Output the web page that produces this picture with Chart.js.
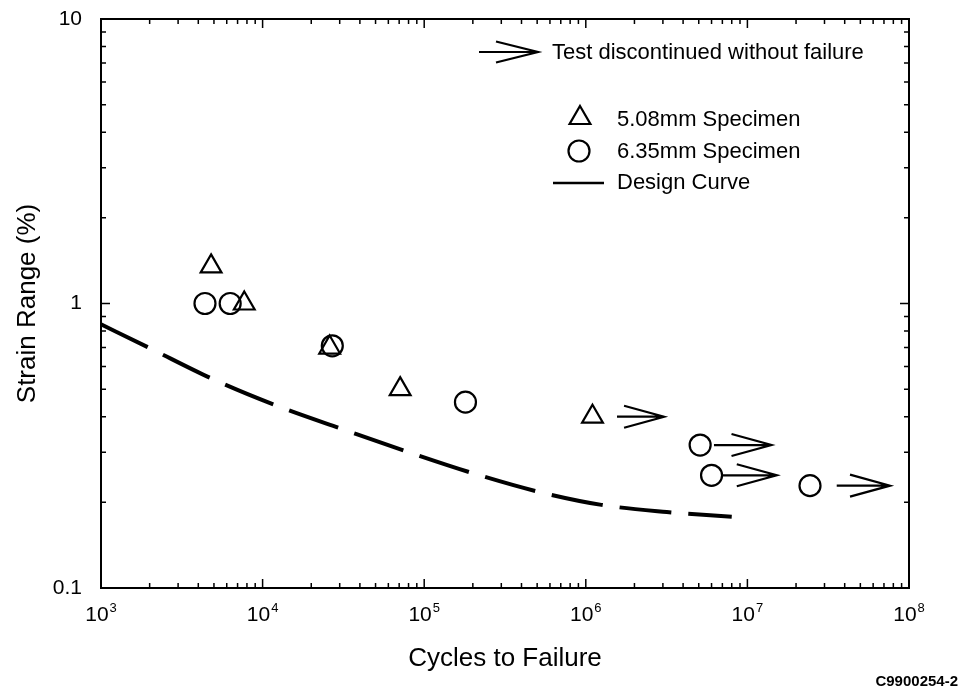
<!DOCTYPE html>
<html lang="en">
<head>
    <meta charset="UTF-8">
    <title>Strain Range vs Cycles to Failure</title>
    <script src="https://cdn.jsdelivr.net/npm/chart.js"></script>
    <style>
        html, body { margin: 0; padding: 0; background: #fff; }
        canvas { display: block; }
    </style>
</head>
<body>
    <canvas id="fatigueChart" width="960" height="689"></canvas>

    <script>
        // 5.08mm specimens (triangles)
        const triCycles = [4800, 7700, 26000, 71000, 1100000];
        const triStrain = [1.35, 1.0, 0.70, 0.50, 0.40];

        // 6.35mm specimens (circles)
        const circCycles = [4400, 6300, 27000, 180000, 5100000, 6000000, 24400000];
        const circStrain = [1.0, 1.0, 0.71, 0.45, 0.318, 0.249, 0.229];

        // design curve
        const designCycles = [1000, 2010, 5075, 12800, 32400, 81700, 201000, 508000, 1250000, 3170000, 8000000];
        const designStrain = [0.845, 0.696, 0.538, 0.433, 0.359, 0.299, 0.253, 0.218, 0.196, 0.185, 0.178];

        // run-outs: arrow from / to (cycles) at strain
        const runoutFrom = [1560000, 6210000, 6930000, 35700000];
        const runoutTo = [3050000, 14100000, 15200000, 76300000];
        const runoutStrain = [0.40, 0.318, 0.249, 0.229];

        // x tick labels: base and exponent
        const xTickBase = ['10', '10', '10', '10', '10', '10'];
        const xTickExp = ['3', '4', '5', '6', '7', '8'];
        const yTickLabels = ['0.1', '1', '10'];
        const legendLabels = ['Test discontinued without failure', '5.08mm Specimen', '6.35mm Specimen', 'Design Curve'];
        const figureId = 'C9900254-2';

        const FONT = '"Liberation Sans", Arial, Helvetica, sans-serif';

        // log tick positions 1..9 x 10^k
        function logTicks(lo, hi) {
            let out = [];
            for (let k = lo; k < hi; k++) {
                for (let m = 1; m <= 9; m++) out.push(m * Math.pow(10, k));
            }
            out.push(Math.pow(10, hi));
            return out;
        }
        const xTickValues = logTicks(3, 8);
        const yTickValues = logTicks(-1, 1);

        function isDecade(v) {
            let k = Math.round(Math.log10(v));
            return Math.abs(v - Math.pow(10, k)) < 1e-6 * v;
        }

        function drawArrow(ctx, x0, x1, y, headLen, headHalf) {
            ctx.beginPath();
            ctx.moveTo(x0, y);
            ctx.lineTo(x1, y);
            ctx.moveTo(x1 - headLen, y - headHalf);
            ctx.lineTo(x1, y);
            ctx.lineTo(x1 - headLen, y + headHalf);
            ctx.stroke();
        }

        // frame + inward ticks on all four sides, power-of-ten labels
        const framePlugin = {
            id: 'frame',
            afterDraw(chart) {
                const ctx = chart.ctx;
                const a = chart.chartArea;
                const xs = chart.scales.x, ys = chart.scales.y;
                ctx.save();
                ctx.strokeStyle = '#000';
                ctx.lineWidth = 2;
                ctx.strokeRect(a.left, a.top, a.right - a.left, a.bottom - a.top);
                ctx.lineWidth = 1.5;
                ctx.beginPath();
                xTickValues.forEach(v => {
                    let px = xs.getPixelForValue(v);
                    let len = isDecade(v) ? 9 : 5;
                    ctx.moveTo(px, a.bottom); ctx.lineTo(px, a.bottom - len);
                    ctx.moveTo(px, a.top); ctx.lineTo(px, a.top + len);
                });
                yTickValues.forEach(v => {
                    let py = ys.getPixelForValue(v);
                    let len = isDecade(v) ? 9 : 5;
                    ctx.moveTo(a.left, py); ctx.lineTo(a.left + len, py);
                    ctx.moveTo(a.right, py); ctx.lineTo(a.right - len, py);
                });
                ctx.stroke();

                // 10^n labels under the x axis
                ctx.fillStyle = '#000';
                ctx.textBaseline = 'alphabetic';
                ctx.textAlign = 'left';
                xTickExp.forEach((e, i) => {
                    let px = xs.getPixelForValue(Math.pow(10, Number(e)));
                    ctx.font = '21px ' + FONT;
                    let wb = ctx.measureText(xTickBase[i]).width;
                    ctx.font = '13px ' + FONT;
                    let we = ctx.measureText(e).width;
                    let x0 = px - (wb + we + 1) / 2;
                    ctx.font = '21px ' + FONT;
                    ctx.fillText(xTickBase[i], x0, a.bottom + 33);
                    ctx.font = '13px ' + FONT;
                    ctx.fillText(e, x0 + wb + 1, a.bottom + 24);
                });
                ctx.restore();
            }
        };

        // arrows for tests stopped without failure
        const runoutPlugin = {
            id: 'runouts',
            afterDatasetsDraw(chart) {
                const ctx = chart.ctx;
                const xs = chart.scales.x, ys = chart.scales.y;
                ctx.save();
                ctx.strokeStyle = '#000';
                ctx.lineWidth = 2.2;
                runoutFrom.forEach((f, i) => {
                    let x0 = xs.getPixelForValue(f);
                    let x1 = xs.getPixelForValue(runoutTo[i]);
                    let y = ys.getPixelForValue(runoutStrain[i]);
                    drawArrow(ctx, x0, x1, y, 40, 11);
                });
                ctx.restore();
            }
        };

        function marker(ctx, style, r, x, y) {
            ctx.beginPath();
            if (style === 'triangle') {
                let rad = 0;
                ctx.moveTo(x + Math.sin(rad) * r, y - Math.cos(rad) * r);
                rad += 2 * Math.PI / 3;
                ctx.lineTo(x + Math.sin(rad) * r, y - Math.cos(rad) * r);
                rad += 2 * Math.PI / 3;
                ctx.lineTo(x + Math.sin(rad) * r, y - Math.cos(rad) * r);
                ctx.closePath();
            } else {
                ctx.arc(x, y, r, 0, Math.PI * 2);
            }
            ctx.stroke();
        }

        // legend box inside the plot + figure id
        const legendPlugin = {
            id: 'customLegend',
            afterDraw(chart) {
                const ctx = chart.ctx;
                ctx.save();
                ctx.strokeStyle = '#000';
                ctx.fillStyle = '#000';
                ctx.lineWidth = 2.2;
                ctx.font = '22px ' + FONT;
                ctx.textBaseline = 'middle';
                ctx.textAlign = 'left';

                drawArrow(ctx, 479, 538, 52, 42, 10.5);
                ctx.fillText(legendLabels[0], 552, 53);

                marker(ctx, 'triangle', 12, 580, 118);
                ctx.fillText(legendLabels[1], 617, 120);

                marker(ctx, 'circle', 10.5, 579, 151);
                ctx.fillText(legendLabels[2], 617, 152);

                ctx.lineWidth = 2.5;
                ctx.beginPath();
                ctx.moveTo(553, 183);
                ctx.lineTo(604, 183);
                ctx.stroke();
                ctx.fillText(legendLabels[3], 617, 183);

                ctx.font = 'bold 15px ' + FONT;
                ctx.textAlign = 'right';
                ctx.fillText(figureId, 958, 682);
                ctx.restore();
            }
        };

        const ctx = document.getElementById('fatigueChart').getContext('2d');
        const chart = new Chart(ctx, {
            type: 'scatter',
            data: {
                datasets: [
                    {
                        label: 'Design Curve',
                        data: designCycles.map((c, i) => ({ x: c, y: designStrain[i] })),
                        showLine: true,
                        borderColor: '#000',
                        borderWidth: 4,
                        borderDash: [52, 17],
                        pointRadius: 0,
                        cubicInterpolationMode: 'monotone',
                        fill: false
                    },
                    {
                        label: '5.08mm Specimen',
                        data: triCycles.map((c, i) => ({ x: c, y: triStrain[i] })),
                        pointStyle: 'triangle',
                        pointRadius: 12,
                        pointBorderWidth: 2.2,
                        borderColor: '#000',
                        backgroundColor: 'rgba(0,0,0,0)'
                    },
                    {
                        label: '6.35mm Specimen',
                        data: circCycles.map((c, i) => ({ x: c, y: circStrain[i] })),
                        pointStyle: 'circle',
                        pointRadius: 10.5,
                        pointBorderWidth: 2.2,
                        borderColor: '#000',
                        backgroundColor: 'rgba(0,0,0,0)'
                    }
                ]
            },
            options: {
                responsive: false,
                animation: false,
                devicePixelRatio: 1,
                layout: { padding: { top: 19, right: 51, bottom: 0, left: 0 } },
                plugins: {
                    legend: { display: false },
                    tooltip: { enabled: false }
                },
                scales: {
                    x: {
                        type: 'logarithmic',
                        position: 'bottom',
                        min: 1000,
                        max: 100000000,
                        grid: { display: false },
                        border: { display: false },
                        afterBuildTicks: (scale) => { scale.ticks = xTickValues.map(v => ({ value: v })); },
                        afterFit: (scale) => {
                            scale.height = 101;
                            scale.paddingLeft = 0;
                            scale.paddingRight = 0;
                        },
                        ticks: { display: false },
                        title: {
                            display: true,
                            text: 'Cycles to Failure',
                            color: '#000',
                            font: { family: FONT, size: 26 },
                            padding: { top: 0, bottom: 15 }
                        }
                    },
                    y: {
                        type: 'logarithmic',
                        min: 0.1,
                        max: 10,
                        grid: { display: false },
                        border: { display: false },
                        afterBuildTicks: (scale) => { scale.ticks = yTickValues.map(v => ({ value: v })); },
                        afterFit: (scale) => {
                            scale.width = 101;
                            scale.paddingTop = 0;
                            scale.paddingBottom = 0;
                        },
                        ticks: {
                            autoSkip: false,
                            padding: 11,
                            color: '#000',
                            font: { family: FONT, size: 21 },
                            callback: (v) => isDecade(v) ? yTickLabels[Math.round(Math.log10(v)) + 1] : ''
                        },
                        title: {
                            display: true,
                            text: 'Strain Range (%)',
                            color: '#000',
                            font: { family: FONT, size: 26 },
                            padding: { top: 12, bottom: 0 }
                        }
                    }
                }
            },
            plugins: [framePlugin, runoutPlugin, legendPlugin]
        });
    </script>
</body>
</html>
